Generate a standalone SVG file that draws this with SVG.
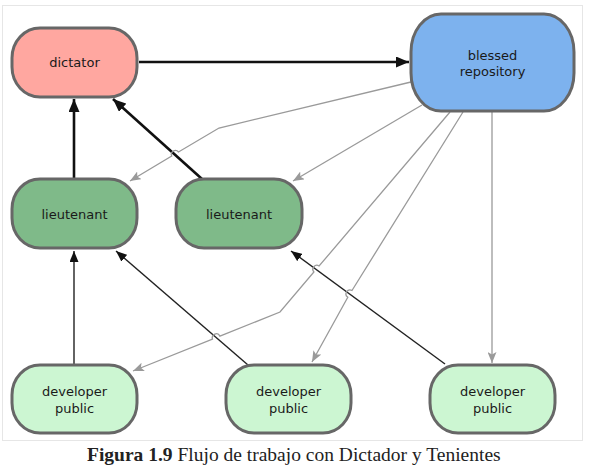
<svg xmlns="http://www.w3.org/2000/svg" width="591" height="472" viewBox="0 0 591 472">
<style>
.node{stroke:#676767;stroke-width:3}
.lbl{font-family:"DejaVu Sans",sans-serif;font-size:13px;fill:#1a1a1a;text-anchor:middle}
.blk{fill:none;stroke:#111;stroke-width:2.6}
.drk{fill:none;stroke:#222;stroke-width:1.4}
.gry{fill:none;stroke:#9a9a9a;stroke-width:1.3}
.cap{font-family:"Liberation Serif",serif;font-size:19.5px;fill:#222}
</style>
<defs>
<marker id="ab" markerUnits="userSpaceOnUse" markerWidth="13" markerHeight="11" refX="13" refY="5.5" orient="auto"><path d="M0,0 L13,5.5 L0,11 z" fill="#111"/></marker>
<marker id="ad" markerUnits="userSpaceOnUse" markerWidth="11" markerHeight="9" refX="11" refY="4.5" orient="auto"><path d="M0,0 L11,4.5 L0,9 z" fill="#111"/></marker>
<marker id="ag" markerUnits="userSpaceOnUse" markerWidth="11" markerHeight="9" refX="11" refY="4.5" orient="auto"><path d="M0,0 L11,4.5 L0,9 L2.5,4.5 z" fill="#9a9a9a"/></marker>
</defs>
<rect x="2.5" y="5.5" width="580" height="435" fill="#fff" stroke="#e6e6e6"/>
<g id="connectors">
<path class="blk" d="M139,62 L409,62" marker-end="url(#ab)"/>
<path class="blk" d="M74,179 L74,99" marker-end="url(#ab)"/>
<path class="blk" d="M202,179 L113,99" marker-end="url(#ab)"/>
<path class="drk" d="M74,365 L74,251" marker-end="url(#ad)"/>
<path class="drk" d="M248,365 L116,251" marker-end="url(#ad)"/>
<path class="drk" d="M445,364 L291,251" marker-end="url(#ad)"/>
<path class="gry" d="M411,82 L219,128 L178.5,152 A4,4 0 0 0 171.7,156.1 L130,181" marker-end="url(#ag)"/>
<path class="gry" d="M422,105 L293,181" marker-end="url(#ag)"/>
<path class="gry" d="M450,112 L319.1,266 A4,4 0 0 0 313.9,272 L280,312 L219.9,336.1 A4,4 0 0 0 212.5,339.1 L133,371" marker-end="url(#ag)"/>
<path class="gry" d="M463,112 L352,290.5 A4,4 0 0 0 347.8,297.3 L312,362" marker-end="url(#ag)"/>
<path class="gry" d="M492,111 L492,363" marker-end="url(#ag)"/>
</g>
<g id="dictator">
<rect class="node" x="12" y="28" width="125" height="69" rx="28" ry="30" fill="#ffa7a0"/>
<text class="lbl" x="74.5" y="67">dictator</text>
</g>
<g id="blessed">
<rect class="node" x="411" y="14" width="163" height="97" rx="30" ry="38" fill="#7db2ee"/>
<text class="lbl" x="492.5" y="60">blessed</text>
<text class="lbl" x="492.5" y="76">repository</text>
</g>
<g id="lieutenant1">
<rect class="node" x="12" y="179" width="125" height="69" rx="28" ry="30" fill="#7fba89"/>
<text class="lbl" x="74.5" y="219">lieutenant</text>
</g>
<g id="lieutenant2">
<rect class="node" x="176" y="179" width="126" height="69" rx="28" ry="30" fill="#7fba89"/>
<text class="lbl" x="239" y="219">lieutenant</text>
</g>
<g id="developer1">
<rect class="node" x="12" y="365" width="125" height="68" rx="28" ry="30" fill="#ccf6d2"/>
<text class="lbl" x="74.5" y="395.5">developer</text>
<text class="lbl" x="74.5" y="412.5">public</text>
</g>
<g id="developer2">
<rect class="node" x="226" y="365" width="125" height="68" rx="28" ry="30" fill="#ccf6d2"/>
<text class="lbl" x="288.5" y="395.5">developer</text>
<text class="lbl" x="288.5" y="412.5">public</text>
</g>
<g id="developer3">
<rect class="node" x="430" y="365" width="125" height="68" rx="28" ry="30" fill="#ccf6d2"/>
<text class="lbl" x="492.5" y="395.5">developer</text>
<text class="lbl" x="492.5" y="412.5">public</text>
</g>
<text class="cap" x="87" y="461"><tspan font-weight="bold">Figura 1.9</tspan> Flujo de trabajo con Dictador y Tenientes</text>
</svg>
